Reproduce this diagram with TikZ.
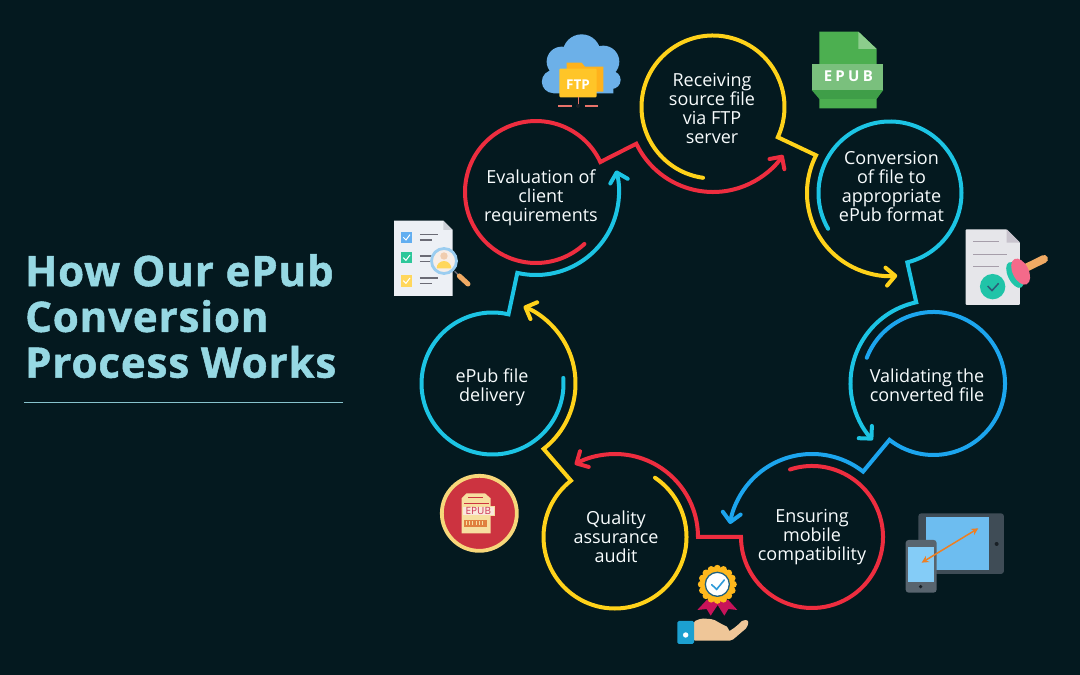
\documentclass[tikz,border=0pt]{standalone}
\usepackage{fontspec}
\setmainfont{Open Sans}
\newfontfamily\titlefont[UprightFont=* Bold,FakeBold=1.2,LetterSpace=2.1]{Open Sans}
\usetikzlibrary{arrows.meta,calc}

\definecolor{pagebg}{HTML}{04191F}
\definecolor{titleblue}{HTML}{96D8E3}
\definecolor{ringred}{HTML}{EE2D3F}
\definecolor{ringyellow}{HTML}{FFD21A}
\definecolor{ringcyan}{HTML}{1CC4E4}
\definecolor{ringblue}{HTML}{1CA5EE}
\definecolor{cloudblue}{HTML}{6CB0E8}
\definecolor{folderback}{HTML}{FFB21C}
\definecolor{folderfront}{HTML}{FFC528}
\definecolor{wirered}{HTML}{E8736A}
\definecolor{filegreen}{HTML}{4CAF50}
\definecolor{wedgegreen}{HTML}{3F9E48}
\definecolor{foldgreen}{HTML}{8CCD8C}
\definecolor{bandgreen}{HTML}{7AC07D}
\definecolor{sheetgrey}{HTML}{E6E6EA}
\definecolor{foldgrey}{HTML}{C8C3CD}
\definecolor{linegrey}{HTML}{A69EAA}
\definecolor{stampteal}{HTML}{21C4A8}
\definecolor{checkdark}{HTML}{2C5C78}
\definecolor{stamppink}{HTML}{F46A8A}
\definecolor{handletan}{HTML}{F0AA64}
\definecolor{listsheet}{HTML}{EDF0F5}
\definecolor{listfold}{HTML}{CDD0D7}
\definecolor{listblue}{HTML}{62AEF0}
\definecolor{listgreen}{HTML}{2DC79A}
\definecolor{listyellow}{HTML}{FFD75C}
\definecolor{listline}{HTML}{6B6B75}
\definecolor{lensring}{HTML}{9BCDF0}
\definecolor{lensfill}{HTML}{F7EEE8}
\definecolor{skin}{HTML}{F0CDAF}
\definecolor{tabletdark}{HTML}{3F4C56}
\definecolor{tabletscreen}{HTML}{6DBDF0}
\definecolor{phonegrey}{HTML}{58646E}
\definecolor{phonescreen}{HTML}{84CCF7}
\definecolor{devicedot}{HTML}{192026}
\definecolor{arroworange}{HTML}{EE7F22}
\definecolor{badgered}{HTML}{CC3340}
\definecolor{badgering}{HTML}{F7D77A}
\definecolor{printcream}{HTML}{F7DFA0}
\definecolor{printpale}{HTML}{FAE8DD}
\definecolor{printpink}{HTML}{CC3350}
\definecolor{printstrip}{HTML}{E0803F}
\definecolor{ribbon}{HTML}{C8135A}
\definecolor{rosette}{HTML}{FFB81C}
\definecolor{rosettering}{HTML}{1F6080}
\definecolor{rosettecheck}{HTML}{2E9AD8}
\definecolor{handskin}{HTML}{EFC698}
\definecolor{cuffblue}{HTML}{1CA0D0}

\tikzset{
  ring/.style={line width=4pt,line cap=round,line join=miter,miter limit=20},
  tip/.style={-{Straight Barb[length=9pt,width=18pt,round]}},
  steplabel/.style={align=center,inner sep=0pt,text=white!93!titleblue,font=\fontsize{18}{19}\selectfont},
  paper/.style={x=.3333pt,y=-.3333pt}
}

\begin{document}
\begin{tikzpicture}[x=1pt,y=1pt]
  \fill[pagebg] (0,0) rectangle (1080,675);
  \useasboundingbox (0,0) rectangle (1080,675);

  % title
  \node[anchor=north west,align=left,inner sep=0pt,text=titleblue,font=\fontsize{42}{45.8}\titlefont] (title) at (25,421) {How Our ePub\\Conversion\\Process Works};
  \coordinate (ruleleft) at (24,272.5);
  \coordinate (ruleright) at (343,272.5);
  \draw[titleblue!90!black,line width=1pt] (ruleleft) -- (ruleright);

  % ring centres
  \coordinate (eval) at (536,483);
  \coordinate (recv) at (713,568);
  \coordinate (conv) at (890,482);
  \coordinate (vali) at (933.5,291.5);
  \coordinate (mobi) at (812,138);
  \coordinate (qual) at (615,138);
  \coordinate (deli) at (492.5,291.5);

  % labels
  \node[steplabel] (evaltext) at (541,477) {Evaluation of\\client\\requirements};
  \node[steplabel] (recvtext) at (712,567) {Receiving\\source file\\via FTP\\server};
  \node[steplabel] (convtext) at (891.5,489) {Conversion\\of file to\\appropriate\\ePub format};
  \node[steplabel] (valitext) at (927,290) {Validating the\\converted file};
  \node[steplabel] (mobitext) at (812,138) {Ensuring\\mobile\\compatibility};
  \node[steplabel] (qualtext) at (616,138) {Quality\\assurance\\audit};
  \node[steplabel] (delitext) at (492,288) {ePub file\\delivery};

  % rings, each one runs on around the next ring
  \draw[ring,tip,ringred] ($(eval)+(-47:71)$) arc[start angle=-47,end angle=-335,radius=71pt]
    -- ($(recv)+(205.6:85)$) arc[start angle=205.6,end angle=325.6,radius=85pt];
  \draw[ring,tip,ringyellow] ($(recv)+(262:71.5)$) arc[start angle=262,end angle=-25,radius=71.5pt]
    -- ($(conv)+(153:83)$) arc[start angle=153,end angle=275,radius=83pt];
  \draw[ring,tip,ringcyan] ($(conv)+(210:71.5)$) arc[start angle=210,end angle=-76,radius=71.5pt]
    -- ($(vali)+(102:83)$) arc[start angle=102,end angle=223,radius=83pt];
  \draw[ring,tip,ringblue] ($(vali)+(159:71.5)$) arc[start angle=159,end angle=-128,radius=71.5pt]
    -- ($(mobi)+(52:83)$) arc[start angle=52,end angle=171,radius=83pt];
  \draw[ring,tip,ringred] ($(mobi)+(108:71)$) arc[start angle=108,end angle=-180,radius=71pt]
    -- ($(qual)+(0:83)$) arc[start angle=0,end angle=119,radius=83pt];
  \draw[ring,tip,ringyellow] ($(qual)+(56:71.5)$) arc[start angle=56,end angle=-232,radius=71.5pt]
    -- ($(deli)+(-52:83)$) arc[start angle=-52,end angle=68,radius=83pt];
  \draw[ring,tip,ringcyan] ($(deli)+(4.5:71)$) arc[start angle=4.5,end angle=-283,radius=71pt]
    -- ($(eval)+(-103:83)$) arc[start angle=-103,end angle=15,radius=83pt];

  % ftp cloud
  \begin{scope}[shift={(440,655)},paper]
    \fill[cloudblue] (425,100) circle[radius=19pt] (365,125) circle[radius=15pt] (490,125) circle[radius=16pt] (340,185) circle[radius=11.5pt] (515,180) circle[radius=9pt] (340,150) rectangle (520,220);
    \fill[folderback] (380,128) -- (425,128) -- (435,140) -- (490,140) -- (490,215) -- (380,215) -- cycle;
    \fill[folderfront,rounded corners=1pt] (358,146) -- (470,146) -- (470,232) -- (358,232) -- cycle;
    \node[inner sep=0pt,text=white,font=\fontsize{13.5}{14}\selectfont\bfseries] (ftp) at (414,194) {FTP};
    \draw[wirered,line width=.8pt] (414,232) -- (414,258);
    \draw[wirered,line width=1.2pt] (355,258) -- (395,258) (435,258) -- (475,258);
    \fill[devicedot] (414,258) circle[radius=2pt];
  \end{scope}

  % epub file
  \begin{scope}[shift={(800,650)},paper]
    \fill[filegreen] (58,20) -- (175,20) -- (230,72) -- (230,250) -- (58,250) -- cycle;
    \fill[foldgreen] (175,20) -- (230,72) -- (175,72) -- cycle;
    \fill[wedgegreen] (35,195) -- (250,195) -- (230,222) -- (58,222) -- cycle;
    \fill[bandgreen] (35,118) rectangle (250,195);
    \node[inner sep=0pt,text=white,font=\fontsize{15}{15}\selectfont\bfseries] (epubname) at (145,155) {E\hspace{3.3pt}P\hspace{3.3pt}U\hspace{3.3pt}B};
  \end{scope}

  % stamped document
  \begin{scope}[shift={(760,655)},paper]
    \fill[sheetgrey,rounded corners=1pt] (617,628) -- (740,628) -- (780,668) -- (780,855) -- (617,855) -- cycle;
    \fill[foldgrey] (740,628) -- (780,668) -- (740,668) -- cycle;
    \draw[linegrey,line width=1.3pt] (640,664) -- (718,664) (640,703) -- (742,703) (640,740) -- (718,740);
    \fill[stampteal] (698,800) circle[radius=12.7pt];
    \draw[checkdark,line width=1.5pt] (683,798) -- (696,812) -- (716,790);
    \draw[handletan,line width=8pt,line cap=round] (795,745) -- (852,717);
    \fill[stampteal,rotate around={26:(765,765)}] (765,765) ellipse[x radius=7pt,y radius=14pt];
    \fill[stamppink,rotate around={26:(782,755)}] (782,755) ellipse[x radius=8pt,y radius=14pt];
  \end{scope}

  % checklist with magnifier
  \begin{scope}[shift={(380,475)},paper]
    \fill[listsheet] (42,62) -- (190,62) -- (218,90) -- (218,288) -- (42,288) -- cycle;
    \fill[listfold] (190,62) -- (218,90) -- (190,90) -- cycle;
    \fill[listblue] (62,95) rectangle (97,130);
    \fill[listgreen] (62,157) rectangle (97,190);
    \fill[listyellow] (62,225) rectangle (97,260);
    \draw[white,line width=1pt] (70,112) -- (78,120) -- (90,104) (70,173) -- (78,181) -- (90,165) (70,242) -- (78,250) -- (90,234);
    \draw[listline,line width=1.6pt] (120,104) -- (175,104) (120,120) -- (157,120) (120,168) -- (175,168) (120,184) -- (157,184) (120,234) -- (175,234) (120,250) -- (157,250);
    \draw[listline,line width=1.4pt] (224,214) -- (240,230);
    \draw[handletan,line width=5pt,line cap=round] (238,228) -- (264,252);
    \fill[lensfill,draw=lensring,line width=2.8pt] (192,183) circle[radius=12.5pt];
    \fill[skin] (192,168) circle[radius=3.7pt];
    \fill[listyellow] (170,205) arc[start angle=180,end angle=0,radius=7.3pt] -- cycle;
  \end{scope}

  % devices
  \begin{scope}[shift={(700,375)},paper]
    \fill[tabletdark,rounded corners=3pt] (655,640) rectangle (912,822);
    \fill[tabletscreen] (678,652) rectangle (868,810);
    \fill[devicedot] (890,732) circle[radius=2pt];
    \fill[phonegrey,rounded corners=3pt] (617,720) rectangle (710,878);
    \fill[phonescreen] (625,740) rectangle (702,845);
    \fill[devicedot] (662,860) circle[radius=1.8pt];
    \draw[arroworange,line width=1.5pt,{Stealth[length=7pt,width=7pt]}-{Stealth[length=7pt,width=7pt]}] (665,788) -- (835,685);
  \end{scope}

  % red badge
  \begin{scope}[shift={(440,200)},paper]
    \fill[badgered,draw=badgering,line width=3.8pt] (118,115) circle[radius=37.5pt];
    \fill[printcream] (80,55) -- (135,55) -- (152,70) -- (152,175) -- (65,175) -- (65,70) -- cycle;
    \draw[badgered,line width=.8pt] (85,66) -- (130,66) (72,84) -- (148,84);
    \fill[printpale,draw=printcream,line width=.8pt] (68,95) rectangle (162,122);
    \node[inner sep=0pt,text=printpink,font=\fontsize{10}{10}\selectfont] (epubprint) at (115,109) {EPUB};
    \fill[printstrip] (72,135) rectangle (140,155);
    \foreach \tick in {78,88,...,134}
      \draw[printcream,line width=1pt] (\tick,139) -- (\tick,151);
  \end{scope}

  % hand and rosette
  \begin{scope}[shift={(660,125)},paper]
    \fill[ribbon] (140,150) -- (112,180) -- (140,177) -- (152,197) -- (173,165) -- (193,197) -- (205,177) -- (232,180) -- (205,150) -- cycle;
    \foreach \petal in {0,22.5,...,337.5}
      \fill[rosette] ($(172,103)+(\petal:48)$) circle[radius=3.5pt];
    \fill[rosette] (172,103) circle[radius=17pt];
    \fill[white,draw=rosettering,line width=1.3pt] (172,103) circle[radius=12pt];
    \draw[rosettecheck,line width=1.6pt,line cap=round] (155,104) -- (170,118) -- (193,90);
    \fill[handskin,rounded corners=2pt] (100,215) -- (125,205) -- (160,208) -- (190,225) -- (206,232) -- (206,245) -- (228,230) -- (250,209) -- (266,212) -- (262,232) -- (215,272) -- (100,272) -- cycle;
    \fill[cuffblue,rounded corners=1.5pt] (52,213) rectangle (102,282);
    \fill[white] (77,255) circle[radius=2.7pt];
  \end{scope}
\end{tikzpicture}
\end{document}
